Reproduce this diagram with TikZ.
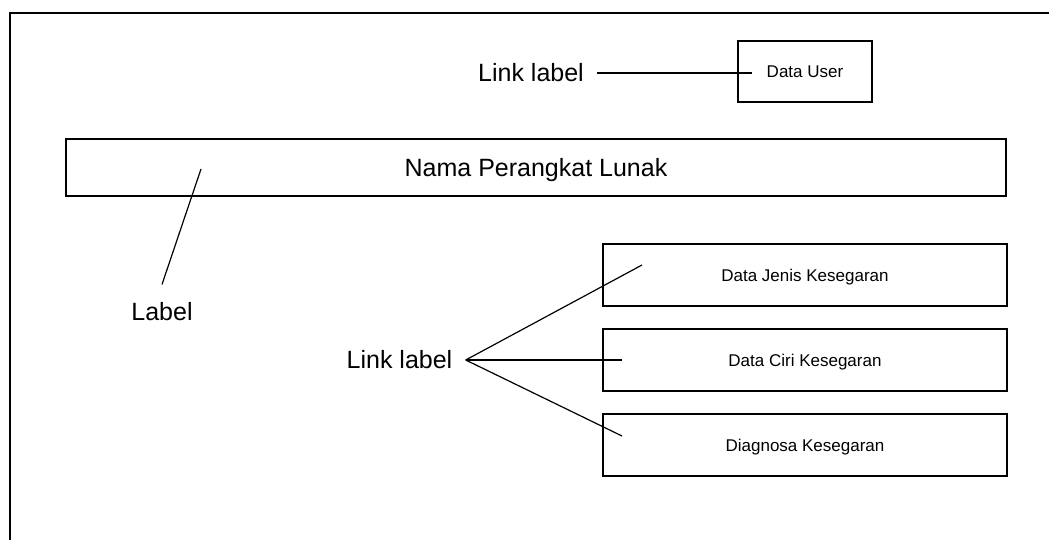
\documentclass[tikz,border=0pt]{standalone}
\usepackage{fontspec}
\setmainfont{Liberation Sans}
\begin{document}
\begin{tikzpicture}[x=0.5pt, y=-0.5pt, node distance=42.5pt,
  box/.style={draw, line width=0.65pt, minimum height=31pt, text depth=0pt, font=\fontsize{8.5}{10}\selectfont},
  biglabel/.style={font=\fontsize{12.5}{15}\selectfont, inner xsep=6.5pt, inner ysep=0pt},
  wire/.style={line width=0.6pt}]
\useasboundingbox (0,0) rectangle (1049,540);
\draw[line width=0.9pt] (10,540) -- (10,13) -- (1049,13);

\node[box, minimum width=67pt, minimum height=30.5pt] (user) at (805,71.5) {Data User};
\node[box, minimum width=470pt, minimum height=28.5pt, font=\fontsize{12.5}{15}\selectfont] (nama) at (536,167.5) {Nama Perangkat Lunak};
\node[box, minimum width=202pt] (jenis) at (805,275) {Data Jenis Kesegaran};
\node[box, minimum width=202pt] (ciri) [below of=jenis] {Data Ciri Kesegaran};
\node[box, minimum width=202pt] (diag) [below of=ciri] {Diagnosa Kesegaran};

\node[biglabel] (linkA) at (531,73) {Link label};
\node[biglabel] (linkB) at (399.5,360) {Link label};
\node[biglabel, inner ysep=9pt] (lbl) at (162,312) {Label};

\coordinate (userin) at (752,73);
\coordinate (namain) at (201,169);
\coordinate (jenisin) at (642,265);
\coordinate (ciriin) at (622,360);
\coordinate (diagin) at (622,436);

\draw[wire] (linkA.east) -- (userin);
\draw[wire] (lbl.north) -- (namain);
\draw[wire] (linkB.east) -- (jenisin);
\draw[wire] (linkB.east) -- (ciriin);
\draw[wire] (linkB.east) -- (diagin);
\end{tikzpicture}
\end{document}
